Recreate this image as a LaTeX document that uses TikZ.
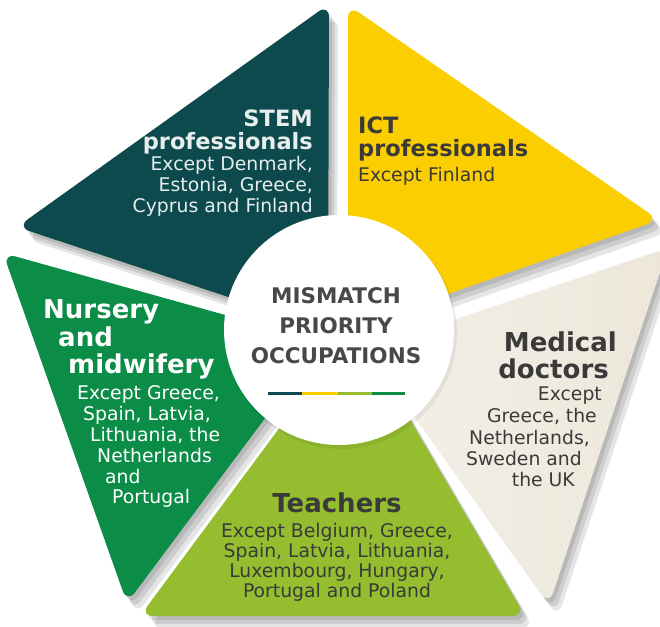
\documentclass[tikz,border=0pt]{standalone}
\usepackage{fontspec}
\setmainfont{DejaVu Sans}
\definecolor{stemC}{RGB}{12,74,78}
\definecolor{ictC}{RGB}{250,206,0}
\definecolor{medC}{RGB}{237,231,218}
\definecolor{medL}{RGB}{244,240,232}
\definecolor{teaC}{RGB}{148,190,48}
\definecolor{nurC}{RGB}{11,141,72}
\definecolor{stemT}{RGB}{232,238,238}
\definecolor{darkT}{RGB}{58,58,58}
\definecolor{ctrT}{RGB}{72,72,72}
\begin{document}
\begin{tikzpicture}[x=1pt, y=-1pt,
  wedge/.style={rounded corners=13pt},
  shad/.style={fill=black, opacity=0.10, rounded corners=13pt},
  hd/.style={inner sep=0pt, font=\fontsize{22.5}{26}\selectfont\bfseries},
  hdL/.style={inner sep=0pt, font=\fontsize{26}{30}\selectfont\bfseries},
  bd/.style={inner sep=0pt, font=\fontsize{18.8}{21}\selectfont},
  ctr/.style={inner sep=0pt, font=\fontsize{21.5}{24}\selectfont\bfseries, text=ctrT},
  bar/.style={line width=3pt}
]
\useasboundingbox (0,0) rectangle (660,626);
\fill[white] (0,0) rectangle (660,626);

% wedge corners
\coordinate (SA) at (329,4);   \coordinate (SB) at (17,227);  \coordinate (SC) at (328,330);
\coordinate (IA) at (348,5);   \coordinate (IB) at (659,220); \coordinate (IC) at (348,329);
\coordinate (MA) at (668,248); \coordinate (MB) at (549,605); \coordinate (MC) at (366,349);
\coordinate (TA) at (140,616); \coordinate (TB) at (525,616); \coordinate (TC) at (355,326);
\coordinate (NA) at (3,253);   \coordinate (NB) at (127,603); \coordinate (NC) at (322,342);

% shadows
\foreach \dx/\dy in {3/4,6/8,9/12}{
  \begin{scope}[transform canvas={shift={(\dx,\dy)}}]
    \fill[shad] (SA) -- (SB) -- (SC) -- cycle;
    \fill[shad] (IA) -- (IB) -- (IC) -- cycle;
    \fill[shad] (MA) -- (MB) -- (MC) -- cycle;
    \fill[shad] (TA) -- (TB) -- (TC) -- cycle;
    \fill[shad] (NA) -- (NB) -- (NC) -- cycle;
  \end{scope}
}

% wedges
\fill[wedge, stemC] (SA) -- (SB) -- (SC) -- cycle;
\fill[wedge, ictC]  (IA) -- (IB) -- (IC) -- cycle;
\shade[wedge, left color=medL, right color=medC]  (MA) -- (MB) -- (MC) -- cycle;
\fill[wedge, teaC]  (TA) -- (TB) -- (TC) -- cycle;
\fill[wedge, nurC]  (NA) -- (NB) -- (NC) -- cycle;

% hub
\fill[black, opacity=0.06] (341,333) circle (116);
\node[circle, fill=white, minimum size=230pt, inner sep=0pt] (hub) at (339,330) {};

% center text
\node[ctr, anchor=base] (c1) at (336,303) {MISMATCH};
\node[ctr, anchor=base] (c2) at (336,333) {PRIORITY};
\node[ctr, anchor=base] (c3) at (336,363) {OCCUPATIONS};
\coordinate (b0) at (268,393); \coordinate (b1) at (302,393); \coordinate (b2) at (338,393);
\coordinate (b3) at (372,393); \coordinate (b4) at (405,393);
\draw[bar, stemC] (b0) -- (b1);
\draw[bar, ictC] (b1) -- (b2);
\draw[bar, teaC] (b2) -- (b3);
\draw[bar, nurC] (b3) -- (b4);

% STEM
\node[hd, text=stemT, anchor=base east] (s1) at (313,126) {STEM};
\node[hd, text=stemT, anchor=base east] (s2) at (313,149) {professionals};
\node[bd, text=stemT, anchor=base east] (s3) at (313,170) {Except Denmark,};
\node[bd, text=stemT, anchor=base east] (s4) at (313,191) {Estonia, Greece,};
\node[bd, text=stemT, anchor=base east] (s5) at (313,212) {Cyprus and Finland};

% ICT
\node[hd, text=darkT, anchor=base west] (i1) at (358,133) {ICT};
\node[hd, text=darkT, anchor=base west] (i2) at (358,156) {professionals};
\node[bd, text=darkT, anchor=base west] (i3) at (358,181) {Except Finland};

% Medical
\node[hdL, text=darkT, anchor=base east] (m1) at (617,351) {Medical};
\node[hdL, text=darkT, anchor=base east] (m2) at (609,378) {doctors};
\node[bd, text=darkT, anchor=base east] (m3) at (602,400) {Except};
\node[bd, text=darkT, anchor=base east] (m4) at (597,422) {Greece, the};
\node[bd, text=darkT, anchor=base east] (m5) at (590,444) {Netherlands,};
\node[bd, text=darkT, anchor=base east] (m6) at (582,465) {Sweden and};
\node[bd, text=darkT, anchor=base east] (m7) at (575,486) {the UK};

% Teachers
\node[hdL, text=darkT, anchor=base] (t1) at (337,512) {Teachers};
\node[bd, text=darkT, anchor=base] (t2) at (337,537) {Except Belgium, Greece,};
\node[bd, text=darkT, anchor=base] (t3) at (337,557) {Spain, Latvia, Lithuania,};
\node[bd, text=darkT, anchor=base] (t4) at (337,577) {Luxembourg, Hungary,};
\node[bd, text=darkT, anchor=base] (t5) at (337,597) {Portugal and Poland};

% Nursery
\node[hdL, text=white, anchor=base west] (n1) at (43,318) {Nursery};
\node[hdL, text=white, anchor=base west] (n2) at (58,346) {and};
\node[hdL, text=white, anchor=base west] (n3) at (68,373) {midwifery};
\node[bd, text=white, anchor=base west] (n4) at (77,399) {Except Greece,};
\node[bd, text=white, anchor=base west] (n5) at (83,420) {Spain, Latvia,};
\node[bd, text=white, anchor=base west] (n6) at (90,441) {Lithuania, the};
\node[bd, text=white, anchor=base west] (n7) at (97,462) {Netherlands};
\node[bd, text=white, anchor=base west] (n8) at (105,483) {and};
\node[bd, text=white, anchor=base west] (n9) at (112,503) {Portugal};
\end{tikzpicture}
\end{document}
